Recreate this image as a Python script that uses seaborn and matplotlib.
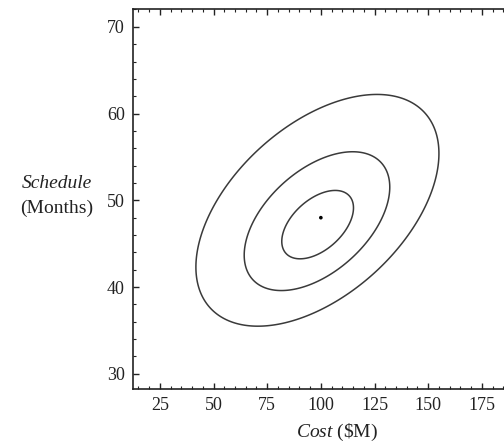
import numpy as np
import pandas as pd
import matplotlib
matplotlib.use("Agg")
import matplotlib.pyplot as plt
import seaborn as sns
from matplotlib.ticker import MultipleLocator

# ---- data ----
cost_ticks = [25, 50, 75, 100, 125, 150, 175]
sched_ticks = [30, 40, 50, 60, 70]
cost_lim = [12.5, 187.5]
sched_lim = [28.25, 72.0]

# contour rings: centre, radius (in standard-deviation units)
ring_center_cost = [98.5, 98.2, 98.4]
ring_center_sched = [47.2, 47.6, 48.85]
ring_radius = [0.668, 1.356, 2.264]
sd_cost = 25.0
sd_sched = 5.9
rho = 0.49

point_cost = [100.0]
point_sched = [48.0]

# ---- style ----
sns.set_style("ticks")
plt.rcParams["font.family"] = ["Liberation Serif", "DejaVu Serif"]
plt.rcParams["mathtext.fontset"] = "custom"
plt.rcParams["mathtext.rm"] = "Liberation Serif"
plt.rcParams["mathtext.it"] = "Liberation Serif:italic"

fig = plt.figure(figsize=(5.04, 4.44), dpi=100)
ax = fig.add_axes([133 / 504, (444 - 389) / 444, 375.7 / 504, (389 - 9.5) / 444])

gx = np.linspace(cost_lim[0], cost_lim[1], 500)
gy = np.linspace(sched_lim[0], sched_lim[1], 500)
X, Y = np.meshgrid(gx, gy)
for cx, cy, r in zip(ring_center_cost, ring_center_sched, ring_radius):
    u = (X - cx) / sd_cost
    v = (Y - cy) / sd_sched
    q = (u * u - 2 * rho * u * v + v * v) / (1 - rho ** 2)
    ax.contour(X, Y, np.sqrt(q), levels=[r], colors="#3a3a3a", linewidths=1.1)

df = pd.DataFrame({"cost": point_cost, "sched": point_sched})
sns.scatterplot(data=df, x="cost", y="sched", ax=ax, color="black", s=7,
                edgecolor="none", legend=False)

ax.set_xlim(cost_lim)
ax.set_ylim(sched_lim)
ax.set_xticks(cost_ticks)
ax.set_yticks(sched_ticks)
ax.xaxis.set_minor_locator(MultipleLocator(5))
ax.yaxis.set_minor_locator(MultipleLocator(2))
ax.tick_params(which="both", direction="in", top=True, right=False,
               colors="#222222", labelcolor="#222222")
ax.tick_params(which="major", length=4, width=1.0, labelsize=13, pad=6)
ax.tick_params(which="minor", length=2, width=0.8)
for s in ax.spines.values():
    s.set_linewidth(1.2)
    s.set_color("#222222")

ax.set_xlabel("")
ax.set_ylabel("")
fig.text(337 / 504, 1 - 432 / 444, r"$\mathit{Cost}$ (\$M)", ha="center",
         va="center", fontsize=14, color="#222222")
fig.text(57 / 504, 1 - 183 / 444, "Schedule", style="italic", ha="center",
         va="center", fontsize=14, color="#222222")
fig.text(57 / 504, 1 - 208 / 444, "(Months)", ha="center", va="center",
         fontsize=14, color="#222222")

fig.savefig("out.png", dpi=100)
